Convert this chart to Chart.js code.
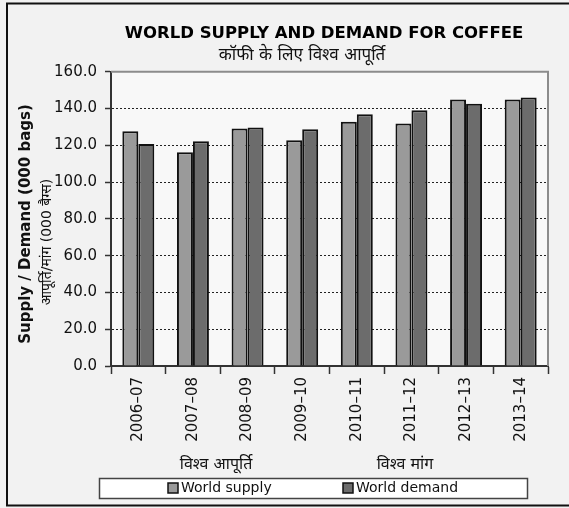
<!DOCTYPE html>
<html>
<head>
<meta charset="utf-8">
<script src="https://cdn.jsdelivr.net/npm/chart.js@4"></script>
<style>
  html, body { margin: 0; padding: 0; background: #f2f2f2; }
  #wrap { width: 569px; height: 508px; }
</style>
</head>
<body>
<div id="wrap"><canvas id="coffeeChart" width="569" height="508"></canvas></div>
<script>
// values (labelled 000 bags)
const seasons = ['2006–07', '2007–08', '2008–09', '2009–10', '2010–11', '2011–12', '2012–13', '2013–14'];
const worldSupply = [127.7, 116.3, 129.2, 122.8, 132.8, 131.9, 145.0, 145.0];
const worldDemand = [120.7, 122.2, 129.7, 128.8, 136.9, 139.1, 142.6, 146.0];
const seriesNames = ['World supply', 'World demand'];

const chartTitle = 'WORLD SUPPLY AND DEMAND FOR COFFEE';
const chartSubtitle = 'कॉफी के लिए विश्व आपूर्ति';
const yTitle = 'Supply / Demand (000 bags)';
const yTitleHindi = 'आपूर्ति/मांग (000 बैग्स)';
const bottomNotes = ['विश्व आपूर्ति', 'विश्व मांग'];

const FONT = "'DejaVu Sans', 'Noto Sans', sans-serif";

// background, frame, legend and the extra text lines
const decorations = {
    id: 'decorations',
    afterLayout(chart) {
        // the title sits a bit right of the canvas centre
        const t = chart.titleBlock;
        if (t) {
            const dx = 324 - (t.left + t.right) / 2;
            t.left += dx;
            t.right += dx;
        }
    },
    beforeDraw(chart) {
        const ctx = chart.ctx;
        const a = chart.chartArea;
        ctx.save();
        ctx.fillStyle = '#f2f2f2';
        ctx.fillRect(0, 0, chart.width, chart.height);

        // outer frame (right edge falls outside the picture)
        ctx.strokeStyle = '#111';
        ctx.lineWidth = 2;
        ctx.strokeRect(7, 3.5, chart.width + 10, 502);

        // plot background
        ctx.fillStyle = '#f8f8f8';
        ctx.fillRect(a.left, a.top, a.right - a.left, a.bottom - a.top);
        ctx.restore();
    },
    beforeDatasetsDraw(chart) {
        const ctx = chart.ctx;
        const a = chart.chartArea;
        ctx.save();
        ctx.strokeStyle = '#8c8c8c';
        ctx.lineWidth = 2;
        ctx.beginPath();
        ctx.moveTo(a.left, a.top);
        ctx.lineTo(a.right, a.top);
        ctx.lineTo(a.right, a.bottom);
        ctx.stroke();
        ctx.restore();
    },
    afterDraw(chart) {
        const ctx = chart.ctx;
        ctx.save();
        ctx.fillStyle = '#111';
        ctx.textAlign = 'center';
        ctx.textBaseline = 'middle';

        ctx.font = '17px ' + FONT;
        ctx.fillText(chartSubtitle, 302, 56);
        ctx.font = '16px ' + FONT;
        ctx.fillText(bottomNotes[0], 216, 465);
        ctx.fillText(bottomNotes[1], 405, 465);

        // legend box with one swatch per dataset
        ctx.fillStyle = '#ffffff';
        ctx.fillRect(99, 478, 429, 20);
        ctx.strokeStyle = '#444';
        ctx.lineWidth = 1.5;
        ctx.strokeRect(99.5, 478.5, 428, 20);
        const swatchX = [168, 343];
        ctx.font = '14px ' + FONT;
        ctx.textAlign = 'left';
        chart.data.datasets.forEach((ds, i) => {
            ctx.fillStyle = ds.backgroundColor;
            ctx.fillRect(swatchX[i], 483, 10, 10);
            ctx.strokeStyle = ds.borderColor;
            ctx.lineWidth = 1.5;
            ctx.strokeRect(swatchX[i], 483, 10, 10);
            ctx.fillStyle = '#111';
            ctx.fillText(ds.label, swatchX[i] + 13, 488.5);
        });

        ctx.textAlign = 'center';
        ctx.translate(26, 224);
        ctx.rotate(-Math.PI / 2);
        ctx.font = 'bold 15px ' + FONT;
        ctx.fillText(yTitle, 0, 0);
        ctx.font = '14px ' + FONT;
        ctx.fillText(yTitleHindi, -18, 21);
        ctx.restore();
    }
};

const ctx = document.getElementById('coffeeChart').getContext('2d');

new Chart(ctx, {
    type: 'bar',
    data: {
        labels: seasons,
        datasets: [{
            label: seriesNames[0],
            data: worldSupply,
            backgroundColor: '#9a9a9a',
            borderColor: '#111',
            borderWidth: 2
        }, {
            label: seriesNames[1],
            data: worldDemand,
            backgroundColor: '#6c6c6c',
            borderColor: '#111',
            borderWidth: 2
        }]
    },
    options: {
        responsive: false,
        animation: false,
        categoryPercentage: 0.585,
        barPercentage: 1,
        layout: {
            padding: { left: 49, right: 21, top: 1, bottom: 42 }
        },
        scales: {
            x: {
                afterFit(scale) { scale.height = 100; },
                grid: {
                    offset: true,
                    drawOnChartArea: false,
                    drawTicks: true,
                    tickLength: 8,
                    tickColor: '#333',
                    tickWidth: 1.5
                },
                border: { color: '#333', width: 2 },
                ticks: {
                    autoSkip: false,
                    minRotation: 90,
                    maxRotation: 90,
                    padding: 3,
                    color: '#111',
                    font: { family: FONT, size: 15 }
                }
            },
            y: {
                min: 0,
                max: 160,
                afterFit(scale) { scale.width = 62; },
                grid: {
                    color: (c) => (c.tick && (c.tick.value === 0 || c.tick.value === 160)) ? 'rgba(0,0,0,0)' : '#222',
                    lineWidth: 1,
                    tickLength: 6,
                    tickColor: '#333',
                    tickWidth: 1.5
                },
                border: { color: '#333', width: 2, dash: [2, 2] },
                ticks: {
                    stepSize: 20,
                    padding: 8,
                    color: '#111',
                    font: { family: FONT, size: 15 },
                    callback: (v) => Number(v).toFixed(1)
                }
            }
        },
        plugins: {
            title: {
                display: true,
                text: chartTitle,
                color: '#000',
                font: { family: FONT, size: 16.5, weight: 'bold' },
                padding: { top: 23, bottom: 28 }
            },
            legend: { display: false },
            tooltip: { enabled: false }
        }
    },
    plugins: [decorations]
});
</script>
</body>
</html>
